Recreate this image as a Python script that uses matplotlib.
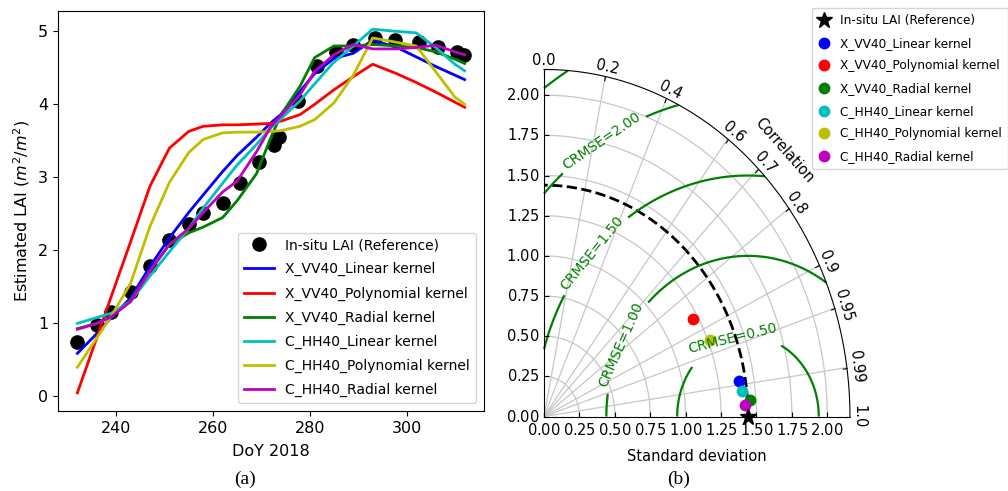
import numpy as np
import matplotlib
matplotlib.use('Agg')
import matplotlib.pyplot as plt
from matplotlib.projections import PolarAxes
import mpl_toolkits.axisartist.floating_axes as FA
import mpl_toolkits.axisartist.grid_finder as GF

# ---- panel (a): LAI time series ----
insitu_days = [232, 236, 239, 243, 247, 251, 255, 258, 262, 265.5, 269.5, 272.6, 273.7,
               277.6, 281.4, 285.4, 289, 293.4, 297.6, 302.6, 306.5, 310.4, 311.8]
insitu_lai = [0.74, 0.98, 1.15, 1.43, 1.79, 2.14, 2.36, 2.51, 2.65, 2.92, 3.21, 3.44, 3.56,
              4.05, 4.53, 4.72, 4.81, 4.91, 4.88, 4.86, 4.78, 4.72, 4.68]

days = [232, 236, 239, 243, 247, 251, 255, 258, 262, 265, 269, 272, 274,
        278, 281, 285, 289, 293, 298, 302, 306, 310, 312]
x_vv40_linear = [0.59, 0.86, 1.08, 1.35, 1.78, 2.17, 2.52, 2.76, 3.08, 3.30, 3.55, 3.75, 3.86,
                 4.18, 4.42, 4.63, 4.70, 4.88, 4.78, 4.65, 4.52, 4.40, 4.34]
x_vv40_poly = [0.05, 0.80, 1.37, 2.12, 2.88, 3.40, 3.63, 3.70, 3.72, 3.72, 3.73, 3.74, 3.77,
               3.86, 4.00, 4.20, 4.38, 4.55, 4.42, 4.30, 4.17, 4.03, 3.96]
x_vv40_radial = [0.93, 1.00, 1.10, 1.32, 1.72, 2.08, 2.24, 2.32, 2.45, 2.68, 3.05, 3.55, 3.85,
                 4.25, 4.64, 4.80, 4.80, 4.82, 4.80, 4.78, 4.72, 4.62, 4.56]
c_hh40_linear = [1.00, 1.08, 1.14, 1.30, 1.65, 1.98, 2.30, 2.58, 2.92, 3.17, 3.45, 3.68, 3.80,
                 4.05, 4.28, 4.58, 4.80, 5.03, 5.00, 4.98, 4.78, 4.55, 4.46]
c_hh40_poly = [0.40, 0.80, 1.10, 1.55, 2.33, 2.93, 3.34, 3.52, 3.61, 3.62, 3.62, 3.63, 3.64,
               3.70, 3.79, 4.02, 4.40, 4.91, 4.85, 4.80, 4.45, 4.10, 4.00]
c_hh40_radial = [0.92, 1.00, 1.09, 1.30, 1.72, 2.08, 2.30, 2.52, 2.80, 2.95, 3.35, 3.70, 3.84,
                 4.13, 4.45, 4.68, 4.82, 4.76, 4.76, 4.78, 4.81, 4.72, 4.68]

labels = ['X_VV40_Linear kernel', 'X_VV40_Polynomial kernel', 'X_VV40_Radial kernel',
          'C_HH40_Linear kernel', 'C_HH40_Polynomial kernel', 'C_HH40_Radial kernel']
colors = ['b', 'r', 'g', 'c', 'y', 'm']

# ---- panel (b): Taylor diagram ----
ref_std = 1.44
sample_std = [1.394, 1.215, 1.455, 1.409, 1.267, 1.420]
sample_corr = [0.9875, 0.8677, 0.9974, 0.9935, 0.9267, 0.9988]
corr_ticks = [0.0, 0.2, 0.4, 0.6, 0.7, 0.8, 0.9, 0.95, 0.99, 1.0]
crmse_levels = [0.5, 1.0, 1.5, 2.0, 2.5]


def plot_series(fig):
    ax = fig.add_axes([58 / 1008, 1 - 411 / 491, 426 / 1008, 400 / 491])
    ax.plot(insitu_days, insitu_lai, 'ko', ms=9.5, ls='', label='In-situ LAI (Reference)')
    series = [x_vv40_linear, x_vv40_poly, x_vv40_radial, c_hh40_linear, c_hh40_poly, c_hh40_radial]
    for values, label, color in zip(series, labels, colors):
        ax.plot(days, values, color=color, lw=2, label=label)
    ax.set_xticks([240, 260, 280, 300])
    ax.set_yticks([0, 1, 2, 3, 4, 5])
    ax.tick_params(labelsize=11.5)
    ax.set_xlabel('DoY 2018', fontsize=11.5, labelpad=6)
    ax.set_ylabel('Estimated LAI ($m^2/m^2$)', fontsize=11.5)
    ax.legend(loc='lower right', fontsize=10, handlelength=2.2, borderaxespad=0.6,
              labelspacing=0.72)


def plot_taylor(fig):
    tr = PolarAxes.PolarTransform(apply_theta_transforms=False)
    tmax = np.pi / 2
    tlocs = np.arccos(corr_ticks)
    gl1 = GF.FixedLocator(tlocs)
    tf1 = GF.DictFormatter(dict(zip(tlocs, map(str, corr_ticks))))
    smax = 1.5 * ref_std
    ghelper = FA.GridHelperCurveLinear(tr, extremes=(0, tmax, 0, smax),
                                       grid_locator1=gl1, tick_formatter1=tf1)
    ax = fig.add_axes([541 / 1008, 1 - 420 / 491, 312 / 1008, 354 / 491],
                      axes_class=FA.FloatingAxes, grid_helper=ghelper)
    ax.set_aspect('auto')

    ax.axis["top"].set_axis_direction("bottom")
    ax.axis["top"].toggle(ticklabels=True, label=True)
    ax.axis["top"].major_ticklabels.set_axis_direction("top")
    ax.axis["top"].label.set_axis_direction("top")
    ax.axis["top"].label.set_text("Correlation")

    ax.axis["left"].set_axis_direction("bottom")
    ax.axis["left"].label.set_text("Standard deviation")
    ax.axis["left"].label.set_pad(8)

    ax.axis["right"].set_axis_direction("top")
    ax.axis["right"].toggle(ticklabels=True)
    ax.axis["right"].major_ticklabels.set_axis_direction("left")
    ax.axis["bottom"].set_visible(False)

    for side in ["top", "left", "right"]:
        ax.axis[side].major_ticklabels.set_fontsize(10.5)
        ax.axis[side].label.set_fontsize(10.5)
    ax.grid(True, color='0.78', lw=0.9)

    aux = ax.get_aux_axes(tr)
    handles = []
    star, = aux.plot([0], [ref_std], 'k*', ls='', ms=12, label='In-situ LAI (Reference)', clip_on=False, zorder=5)
    handles.append(star)
    t = np.linspace(0, tmax, 100)
    aux.plot(t, np.zeros_like(t) + ref_std, 'k--', lw=2)

    for s, c, label, color in zip(sample_std, sample_corr, labels, colors):
        h, = aux.plot(np.arccos(c), s, marker='o', ms=7.5, ls='', color=color, label=label)
        handles.append(h)

    rs, ts = np.meshgrid(np.linspace(0, smax, 200), np.linspace(0, tmax, 200))
    rms = np.sqrt(ref_std ** 2 + rs ** 2 - 2 * ref_std * rs * np.cos(ts))
    cs = aux.contour(ts, rs, rms, crmse_levels, colors='g', linewidths=1.6)
    aux.clabel(cs, inline=True, fontsize=10, fmt='CRMSE=%.2f',
               manual=[(0.35, 1.417), (0.73, 0.686), (1.32, 1.1), (1.35, 1.78)])

    fig.legend(handles, [h.get_label() for h in handles], numpoints=1, fontsize=8.7,
               loc='upper left', bbox_to_anchor=(806 / 1008, 1 - 2 / 491), labelspacing=0.8,
               handlelength=1.0, handletextpad=0.8, borderpad=0.5)


def main():
    fig = plt.figure(figsize=(10.08, 4.91), dpi=100)
    plot_series(fig)
    plot_taylor(fig)
    fig.text(245 / 1008, 1 - 479 / 491, '(a)', family='Liberation Serif', fontsize=14, ha='center', va='center')
    fig.text(679 / 1008, 1 - 479 / 491, '(b)', family='Liberation Serif', fontsize=14, ha='center', va='center')
    fig.savefig('out.png', dpi=100)


if __name__ == '__main__':
    main()
